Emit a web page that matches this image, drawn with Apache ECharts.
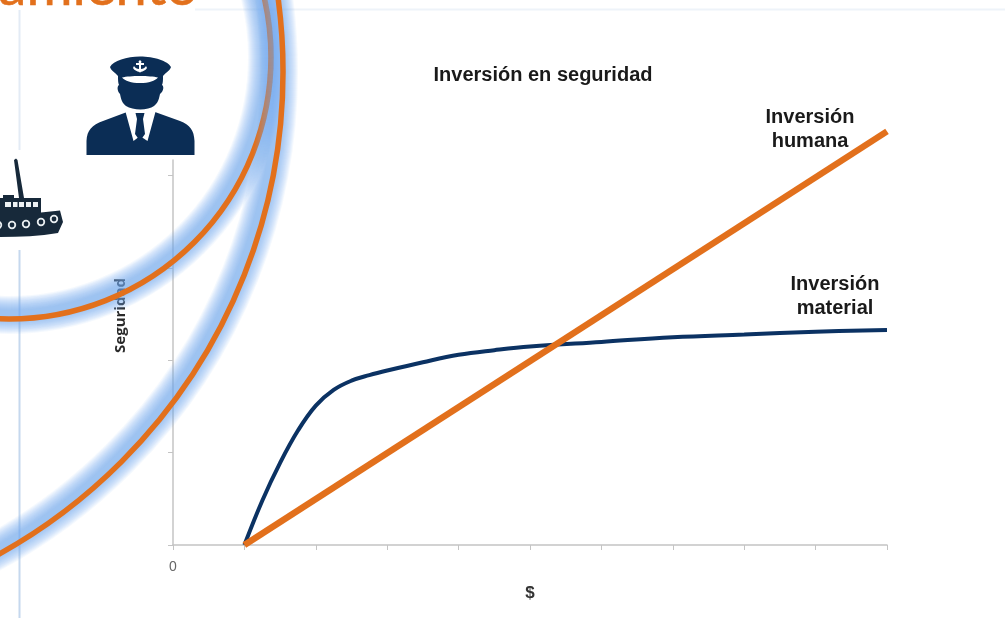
<!DOCTYPE html>
<html><head><meta charset="utf-8">
<style>html,body{margin:0;padding:0;background:#fff}#c{width:1005px;height:618px}</style>
<script src="https://cdn.jsdelivr.net/npm/echarts@6/dist/echarts.min.js"></script></head>
<body><div id="c"></div>
<script>
const titleText = 'Inversión en seguridad';
const xName = '$';
const yName = 'Seguridad';
const humanLabel = 'Inversión\nhumana';
const materialLabel = 'Inversión\nmaterial';
const headerText = 'amiento';
const yTicks = [0,1,2,3,4];
const materialX = [1,1.25,1.5,1.75,2,2.25,2.5,2.75,3,3.5,4,4.5,5,6,7,8,9,10];
const materialY = [0,0.48,0.89,1.24,1.51,1.68,1.78,1.84,1.89,1.98,2.06,2.11,2.15,2.2,2.25,2.28,2.31,2.33];
const humanX = [1,10];
const humanY = [0,4.48];
const NAVY='#0B3263', ORANGE='#E2701C';
const pair=(a,b)=>a.map((v,i)=>[v,b[i]]);
const glowWidths=[38,36,34,32,30,28,26,24,22,20,18,16,14,12,10];
const ring=(cx,cy,r,z)=>[
 ...glowWidths.map(w=>({type:'circle',z:z,silent:true,shape:{cx,cy,r:r-4},style:{fill:'none',stroke:'rgba(110,170,240,0.07)',lineWidth:w}})),
 {type:'circle',z:z+1,silent:true,shape:{cx,cy,r},style:{fill:'none',stroke:ORANGE,lineWidth:5.5}}
];
const icons={
 shipBody:'M19,198 L14,160 L16,158.5 L17.5,160 L24,198 L41,198 L41,212.5 L60,210.5 L63,222 L58,233 C40,236 20,237 0,237 L0,198 L3,198 L3,195 L14,195 L14,198 Z',
 capHead:'M110,67 C113,61 127,56.5 140,56.5 C154,56.5 168,61 171,67 C170,71 166,72 163,76 C163,80 163,83 162,85 C164,86 164,91 160,94 C159,99 158,103 154,106 C148,110.5 133,110.5 126,106 C122,103 121,99 120,94 C117,91 117,86 119,85 C118,83 118,80 118,76 C115,72 111,71 110,67 Z',
 capBody:'M86.5,155 L86.5,141 C87,130 92,125 103,121 L127,112 L155,112 L180,121 C190,125 194,130 194.5,141 L194.5,155 Z',
 capVisor:'M122,77.5 C130,75.5 150,75.5 158,77.5 C155,81 149,83 140,83 C131,83 125,81 122,77.5 Z',
 capShirt:'M125,110 L156,110 L147.5,141 L140,136 L133.5,141 Z',
 capTie:'M135.5,113 L144.5,113 L143,119 L145,134 L140,141 L135,134 L137,119 Z',
 capAnchor:'M140,60 L141.5,61.5 L141,63 L144,63 L144,65 L141,65 L141,69 C143,69 145,68 146,66 L147,68 C146,70 143,71.5 140.5,72 L140,73 L139.5,72 C137,71.5 134,70 133,68 L134,66 C135,68 137,69 139,69 L139,65 L136,65 L136,63 L139,63 L138.5,61.5 Z'
};
Object.keys(icons).forEach(k=>echarts.graphic.registerShape(k,echarts.graphic.extendPath(icons[k])));
const icon=(k,z,fill)=>({type:k,z:z,silent:true,style:{fill}});
const chart=echarts.init(document.getElementById('c'),null,{renderer:'canvas'});
chart.setOption({
 animation:false,backgroundColor:'#fff',
 title:{text:titleText,left:538,top:60,textAlign:'center',textStyle:{fontFamily:'Liberation Sans',fontSize:20,fontWeight:'bold',color:'#1a1a1a'}},
 grid:{left:173,right:118,top:160,bottom:73},
 xAxis:{type:'value',min:0,max:10,interval:1,name:xName,nameLocation:'middle',nameGap:40,
  nameTextStyle:{fontFamily:'Liberation Sans',fontSize:17,fontWeight:'bold',color:'#333'},
  axisLine:{lineStyle:{color:'#c4c4c4',width:1.5}},axisTick:{length:5,lineStyle:{color:'#c4c4c4'}},splitLine:{show:false},
  axisLabel:{margin:15,fontFamily:'Liberation Sans',fontSize:14,color:'#666',formatter:v=>v===0?'0':''}},
 yAxis:{type:'value',min:0,max:4.17,name:yName,nameLocation:'middle',nameGap:45,nameRotate:90,
  nameTextStyle:{fontFamily:'Open Sans',fontSize:15,fontWeight:'bold',color:'#2a2a2a',padding:[0,0,0,74]},
  axisLine:{show:true,lineStyle:{color:'#c4c4c4',width:1.5}},axisTick:{show:true,length:5,customValues:yTicks,lineStyle:{color:'#c4c4c4'}},
  axisLabel:{show:false},splitLine:{show:false}},
 series:[
  {name:'Inversión material',type:'line',smooth:0.4,clip:false,showSymbol:false,data:pair(materialX,materialY),lineStyle:{color:NAVY,width:4},z:3},
  {name:'Inversión humana',type:'line',clip:false,showSymbol:false,data:pair(humanX,humanY),lineStyle:{color:ORANGE,width:6.5},z:4}
 ],
 graphic:{elements:[
  {type:'line',z:1,silent:true,shape:{x1:195,y1:9.5,x2:1005,y2:9.5},style:{stroke:'#eef3f9',lineWidth:2}},
  {type:'line',z:1,silent:true,shape:{x1:19.5,y1:10,x2:19.5,y2:150},style:{stroke:'#e3ebf5',lineWidth:2}},
  {type:'line',z:1,silent:true,shape:{x1:19.5,y1:250,x2:19.5,y2:618},style:{stroke:'#c5d8ee',lineWidth:2}},
  {type:'text',z:12,silent:true,x:198,y:15,style:{text:headerText,fontFamily:'Lato',fontSize:56,fill:ORANGE,stroke:ORANGE,lineWidth:0.6,align:'right',verticalAlign:'bottom',lineHeight:56}},
  ...ring(9,57,262,20),
  ...ring(-268,72,551,22),
  {type:'rect',z:30,silent:true,shape:{x:0,y:150,width:66,height:100},style:{fill:'#fff'}},
  icon('shipBody',31,'#17293a'),
  ...[[5,6],[13,4.5],[19,5],[26,5],[33,5]].map(([x,w])=>({type:'rect',z:32,silent:true,shape:{x,y:202,width:w,height:5},style:{fill:'#eef2f4'}})),
  ...[[-2,225],[12,225],[26,224],[41,222],[54,219]].map(([cx,cy])=>({type:'circle',z:32,silent:true,shape:{cx,cy,r:3.3},style:{fill:'#17293a',stroke:'#e8edf0',lineWidth:1.8}})),
  icon('capHead',31,'#0b2d55'),
  icon('capBody',31,'#0b2d55'),
  icon('capVisor',32,'#fff'),
  icon('capShirt',32,'#fff'),
  icon('capTie',33,'#0b2d55'),
  icon('capAnchor',32,'#fff'),
  {type:'text',z:6,silent:true,x:810,y:129,style:{text:humanLabel,fontFamily:'Liberation Sans',fontSize:20,fontWeight:'bold',fill:'#1a1a1a',align:'center',verticalAlign:'middle',lineHeight:24}},
  {type:'text',z:6,silent:true,x:835,y:296,style:{text:materialLabel,fontFamily:'Liberation Sans',fontSize:20,fontWeight:'bold',fill:'#1a1a1a',align:'center',verticalAlign:'middle',lineHeight:24}}
 ]}
});
</script></body></html>
